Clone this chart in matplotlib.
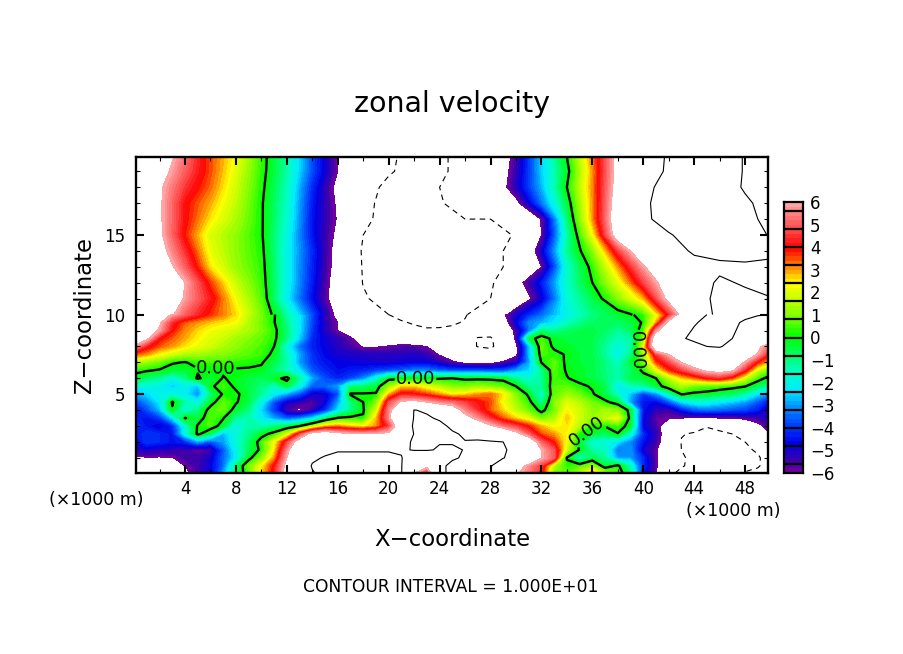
"""
Zonal velocity cross section with contour lines and a colour key
"""

import numpy as np
import matplotlib
matplotlib.use('Agg')
import matplotlib.pyplot as plt
from matplotlib.colors import LinearSegmentedColormap, BoundaryNorm

# lower part of the section on a finer grid (km)
x_low = list(range(0, 51))
z_low = [0.05, 0.5, 1, 1.5, 2, 2.5, 3, 3.5, 4, 4.5, 5, 5.5, 6, 6.5, 7, 7.5, 8, 8.5, 9, 9.5, 10]

# one row per z level, bottom to top, x = 0..50
u_low = [
    [-7.5, -7, -6.8, -6.5, -6.3, -5.5, -5, -3, -0.8, 0.6,
     2.6, 4.2, 6.8, 9, 9.9, 10.4, 10.6, 10.6, 10.6, 10.5,
     10.4, 10.1, 6.1, 4, 9.8, 10.2, 10.4, 10.5, 10.1, 7,
     6.2, 5.4, 4.3, 1, 0.6, 1.5, 3.2, 1.3, 0.6, -1,
     -4.5, -5.8, -9.7, -10.3, -10.5, -10.6, -10.5, -10.2, -9.8, -9.5, -9],
    [-7, -6.7, -6.6, -6.4, -6, -5.5, -4.8, -3.5, -0.9, 0.8,
     2.3, 4, 6.5, 9, 10.1, 10.4, 10.5, 10.5, 10.5, 10.5,
     10.4, 10.1, 7, 6.5, 9.8, 10.2, 10.5, 10.5, 10.2, 8,
     6.8, 5.6, 4.5, 1.5, 0.3, 0.5, 1.2, -0.5, 0.2, -1.5,
     -4.2, -5.8, -8, -9.9, -10.3, -10.5, -10.8, -11, -10.9, -10.2, -9],
    [-6.2, -6.1, -6.1, -6.05, -5.5, -5.5, -5, -3.5, -2.2, -0.3,
     1, 3, 6, 8.8, 9.8, 10.1, 10.3, 10.3, 10.3, 10.3,
     10.3, 10.1, 8.5, 8.5, 9.7, 9.9, 10.1, 10.4, 10.3, 10.1,
     9, 7.5, 6, 5, -0.1, -1.8, -0.6, -1.2, -3, -3,
     -4.2, -5.8, -8, -9.8, -10.4, -10.6, -10.8, -10.9, -10.8, -10.5, -8],
    [-5.2, -5, -5.2, -5.3, -5.5, -5.8, -5.5, -3.7, -2, -0.7,
     0.2, 2.4, 5.5, 8, 9.4, 9.7, 9.9, 9.9, 9.9, 9.9,
     9.9, 9.8, 10.1, 10.1, 9.9, 9.8, 10.05, 10.3, 10.5, 10.2,
     9.5, 8.7, 6, 4.8, 1.8, -0.1, -1.3, -1.5, -3.4, -3,
     -5, -5.8, -8, -10, -10.5, -10.8, -10.9, -11, -10.7, -9.5, -7.5],
    [-4.8, -4, -4.2, -4.5, -4.2, -3, -3.8, -3, -1.8, -0.8,
     0.4, 2.2, 4.5, 7, 8.7, 9, 8.5, 8.5, 8.5, 8.5,
     8.5, 9.5, 10.2, 10.4, 10.05, 10.1, 10.05, 10.2, 10.1, 10,
     9, 7.5, 5, 3.8, 2.2, -0.5, -1.8, -1.8, -2.4, -3.2,
     -4.5, -5.5, -7, -10.1, -10.6, -11, -11, -10.9, -10, -8.5, -6.6],
    [-4.5, -4, -4.2, -4.5, -2, 0.2, -0.8, -2.8, -1.8, -1.1,
     -0.3, 0.3, 1.8, 4.5, 6.8, 7.4, 6.5, 6.2, 6.1, 6.1,
     6.3, 7.5, 10.1, 10.3, 10.4, 10.2, 9.8, 9.4, 9.2, 8,
     6.5, 5, 3.5, 3, 2.3, 0.1, -0.4, -0.8, -0.05, -1.8,
     -4.2, -5.3, -7, -9.9, -10.2, -10.5, -10.2, -10, -8.8, -7, -6],
    [-3.8, -4.5, -5, -4.2, -1.8, 0.1, 0.5, -0.4, -2, -1.3,
     -1.4, -1, -0.7, 0, 1.3, 2.7, 3.1, 2.6, 2.3, 3,
     4.5, 7.5, 10.4, 10.5, 10.4, 9.7, 8, 7, 6.2, 5.2,
     4.6, 3.8, 2.8, 2.2, 2.5, 1.5, 0.1, 0.05, 0.4, -0.3,
     -4.8, -5.5, -7, -8.6, -9.2, -9.9, -9.7, -9.2, -7.8, -6.3, -5.5],
    [-4.3, -4.5, -4, -2.4, 0.05, -0.5, 0.6, 0.05, -1.2, -1.4,
     -2.2, -3, -3.7, -3.3, -2.5, -1, 0.1, 0.2, 0.1, 2.7,
     5.5, 9, 10.05, 10.2, 9.8, 7.5, 6.5, 5.6, 4.4, 3.4,
     2.6, 2, 0.8, 1.4, 2.8, 1.8, 1.2, 1.6, 2.2, -0.3,
     -4.7, -5.8, -5.9, -6, -6.1, -6.1, -6, -6, -5.7, -5.5, -5],
    [-4.7, -3.8, -2.8, -0.1, -2, -1, 0.4, 0.8, -0.4, -1,
     -2.5, -4, -5.6, -6.2, -5.4, -4.2, -2.4, -1.1, -0.1, 1.8,
     5.5, 8, 10.05, 9.8, 8, 7, 5.5, 4.4, 3.4, 2.6,
     1.6, 0.8, -0.3, 0.8, 2.4, 1.8, 1.1, 1.3, 1, -0.3,
     -4.5, -5.3, -5.5, -4.5, -3.7, -3.5, -3.6, -3.8, -3.9, -4.4, -5.3],
    [-4, -3.2, -2.3, 0.1, -1.3, -2, -0.4, 0.7, 0.1, -0.6,
     -2, -3.8, -5, -5.3, -5.7, -4.9, -3, -1, 0, 0.9,
     4.7, 6.2, 6.5, 6, 5.4, 5.2, 4.6, 4.1, 3.5, 2.2,
     1.3, 0.3, -1.2, 1, 2, 1.5, 0.8, 0.2, -0.4, -3,
     -4.5, -4.7, -3.8, -2.5, -2, -2, -2.3, -2.6, -3, -3.7, -4.6],
    [-3, -2.5, -2, -1.8, -2.2, -3.2, -1, 0.1, 0.2, -0.5,
     -1.2, -2.2, -3, -3.8, -5, -5, -3.8, 0.1, 0.1, 0.1,
     2.8, 4.2, 4, 3.6, 3, 2.3, 2.6, 3, 3.3, 2.5,
     1, -0.2, -1.8, 0.7, 1.2, 0.8, 0.1, -0.6, -1.6, -2.7,
     -4, -3.2, -1.6, 0.05, -0.2, -0.3, -0.6, -0.8, -1.4, -2.4, -3.3],
    [-1.9, -1.9, -2, -2.6, -2.1, -2.7, -0.2, 0.5, -0.2, -0.5,
     -1, -1.6, -0.5, -2, -3.6, -3.5, -3, -1, -0.9, -0.5,
     1.2, 2.5, 2.6, 2, 1.5, 1, 0.9, 1.2, 0.9, 0.7,
     0, -1.1, -1.2, 0.6, 0.7, 0.2, -0.1, -0.6, -2.2, -1.5,
     -1.3, -0.5, 0.6, 1.4, 0.8, 0.6, 0.5, 0.3, 0.05, -0.7, -1.5],
    [-0.4, -0.9, -1.2, -1.9, -1.1, 0.15, -0.5, 0.05, -0.2, -0.5,
     -0.7, -0.3, 0.25, -1.2, -2.9, -3.8, -4.3, -3.9, -3.2, -1.9,
     -0.3, -0.2, -0.2, -0.3, -0.1, 0, -0.2, -0.2, -0.2, -0.3,
     -1.2, -1.7, -1.2, 0.5, 0.05, -0.3, -0.5, -0.9, -1.4, -0.6,
     -0.4, 0, 1.5, 2.6, 3.2, 4, 4.3, 3.5, 1.9, 0.4, -0.4],
    [0.3, 0.1, -0.1, -0.4, -0.4, -0.1, -0.1, -0.1, -0.1, -0.1,
     -0.2, -0.9, -1.5, -2.4, -3.7, -4.2, -4.6, -4.4, -4.3, -4,
     -3.8, -3.6, -3.3, -3.3, -3.6, -3.8, -3.7, -3.7, -3.8, -3.8,
     -3, -2.5, -1.2, 0.6, -0.1, -0.3, -0.5, -1, -1.3, -0.8,
     0.2, 2, 3.6, 4.5, 5.5, 6.3, 6.6, 6.2, 4.2, 1.8, 0.7],
    [1.5, 1.1, 0.8, 0.1, -0.05, 0.3, 0.4, 0.4, 0.3, 0.2,
     0.1, -0.6, -1.3, -3, -4, -4.5, -4.7, -4.8, -4.9, -5,
     -5, -4.9, -4.8, -4.8, -5.2, -5.8, -6.3, -6.5, -6.4, -5.8,
     -5.2, -3, 0.05, 0.7, -0.2, -0.4, -0.5, -1, -1.6, -0.5,
     0.8, 3.5, 4.6, 6, 7, 7.8, 8, 7.4, 5.8, 3.8, 2.6],
    [3.5, 3, 2.3, 1.8, 1.4, 1.3, 1.1, 1, 0.8, 0.6,
     0.4, -0.2, -1.5, -2.9, -4.1, -4.7, -5, -5.1, -5.1, -5.2,
     -5.2, -5.2, -5.1, -5.4, -6.1, -6.8, -7.3, -8, -8.5, -7.5,
     -6.3, -2.8, 0.5, 0.3, -0.1, -0.4, -0.6, -1.2, -2, -1.1,
     1.2, 4.5, 6, 7.7, 8.3, 9, 9.2, 8.2, 7, 5.9, 3.8],
    [5.7, 4.2, 3.4, 3, 2.5, 2.1, 1.8, 1.4, 1.1, 0.8,
     0.5, 0, -1.9, -3.4, -4.3, -4.8, -5.2, -5.6, -6.1, -6.1,
     -5.9, -5.7, -5.7, -6, -6.4, -7, -9, -10.1, -10.5, -8.5,
     -6.3, -2.8, 0.8, -0.2, -0.3, -0.5, -0.6, -1.2, -1.9, -1.4,
     2, 8, 8.8, 9.4, 9.7, 10, 10.1, 9.6, 8, 6.3, 5],
    [7.5, 6.3, 4, 3.4, 2.9, 2.4, 2, 1.7, 1.3, 1,
     0.7, 0.2, -1, -2.6, -4.2, -4.9, -5.3, -5.8, -6.8, -7.2,
     -7.2, -7, -7.5, -8, -8.3, -8.7, -9.2, -10.1, -10.3, -8.5,
     -5.7, -0.5, 0.5, -0.3, -0.5, -0.5, -0.6, -1, -1.5, -1.3,
     1, 8, 9.3, 9.9, 10.2, 10.4, 10.4, 10, 9.4, 8.6, 7.5],
    [8, 7, 5.8, 3.9, 3.1, 2.6, 2.2, 2, 1.7, 1.4,
     0.9, 0.25, -0.9, -2.3, -4, -5.2, -6, -7, -8, -8.6,
     -9, -9.3, -9.5, -9.7, -9.6, -9.5, -9.4, -9.3, -8.7, -7.5,
     -5.6, -3.5, -1, -1.2, -0.8, -0.6, -0.5, -0.8, -1.2, -0.8,
     0.5, 5.5, 7.5, 9.3, 10.2, 10.6, 10.7, 10.2, 9.5, 8.8, 8],
    [9, 7.5, 6.2, 4.3, 3.4, 3, 2.7, 2.5, 2.3, 1.5,
     0.8, 0.05, -1.1, -2.3, -3.9, -5.2, -6, -7.4, -8.4, -9,
     -9.4, -9.8, -10.2, -10.6, -10.7, -10.3, -9.8, -9, -8, -6.8,
     -4.8, -3.2, -2.8, -2.3, -1.6, -1.1, -0.8, -0.7, -0.8, -0.5,
     0.1, 2.8, 6.5, 8.7, 9.8, 10.5, 10.8, 10.4, 9.7, 8.8, 8.5],
    [10.1, 8.8, 7.3, 5.8, 5, 4.3, 3.7, 3.2, 2.6, 1.6,
     0.9, 0.1, -1.3, -2.2, -3.8, -5.4, -6.4, -7.5, -8.5, -9.2,
     -10, -10.6, -11, -11.2, -11.5, -11, -10.2, -9, -8, -6.2,
     -5, -4.2, -3.5, -2.6, -2, -1.5, -1, -0.7, -0.4, -0.1,
     0.3, 2, 4.2, 7, 8.7, 10, 10.5, 10.6, 10.5, 10.2, 10],
]

# upper part, smoother, coarser grid
x_high = list(range(0, 51, 2))
z_high = [10, 11, 12, 13, 14, 15, 16, 17, 18, 19, 19.9]
u_high = [
    [10.1, 7.3, 5, 3.7, 2.6, 0.9, -1.3, -3.8, -6.4, -8.5, -10, -11, -11.5, -10.2, -8, -5, -3.5, -2, -1, -0.4, 0.3, 4.2, 8.7, 10.5, 10.5, 10],
    [9.3, 8.3, 5.8, 4.2, 2.2, 0.6, -2.2, -4.6, -6.8, -9.7, -11, -12, -12, -11.5, -10, -7.5, -5, -1.8, -0.6, 1, 2.8, 6.5, 9, 10.6, 10.5, 10.2],
    [9.5, 8.5, 6, 3.6, 1.7, 0.4, -2, -4.4, -6.8, -10.1, -11, -12, -12, -11.5, -10.5, -6.6, -4.4, -1.6, 0, 2, 4.6, 7, 9, 10.3, 9.8, 8.5],
    [8.5, 7.2, 5, 2.5, 1.2, 0.3, -2, -4.3, -6.6, -10.2, -11.5, -12.5, -12, -12, -10.5, -9.5, -6, -1.7, 0.3, 3, 5.8, 8, 9.2, 9.6, 9.7, 9.8],
    [8, 6.6, 4.4, 2.1, 1.1, 0.2, -2, -4.2, -6.6, -10.3, -11.5, -12.5, -12, -12, -11, -9, -5, -1.2, 1, 4.5, 7.5, 9, 10.3, 10.6, 10.7, 10.2],
    [8, 6.3, 3.8, 1.9, 1.1, 0.1, -1.9, -4.5, -6.3, -10, -11.5, -12.5, -12, -11.5, -11, -9.8, -6, -1.4, 2.2, 7, 8.5, 9.8, 11, 11.3, 10.6, 9.9],
    [7.5, 6.2, 4, 2.5, 1.4, 0.1, -1.7, -4.5, -6.1, -9.4, -11, -12, -11, -10, -10, -9, -5.9, -1, 3, 7.2, 9.5, 11, 11.5, 11.4, 10.5, 9.5],
    [7.5, 6.2, 4, 2.9, 1.6, 0.1, -1.6, -4.4, -6.2, -9.2, -11, -12, -10.2, -9, -7.6, -6.4, -3.4, -0.5, 3, 7, 9.6, 11, 11.5, 11.2, 10.3, 9.3],
    [7.5, 6.2, 4.5, 3.3, 1.8, 0.2, -1.5, -4.2, -6.4, -8.8, -10.7, -12, -10, -9, -7.4, -5.2, -2.8, 0, 3.1, 6.7, 9.4, 10.8, 11.3, 11, 9.8, 9],
    [8, 6.6, 5, 3.5, 2, 0.3, -1.3, -3.8, -6, -8, -9.7, -11, -10.5, -9, -7.5, -5.4, -2.6, -0.3, 3, 6.6, 8.9, 10.3, 11, 10.8, 9.9, 9],
    [8, 7, 5.2, 3.5, 2.2, 0.35, -1.3, -3.8, -6, -8, -9.5, -11, -10.5, -9, -7.5, -5.6, -2.5, 0, 3.2, 6.5, 8.5, 10.3, 11, 10.8, 9.9, 9],
]

key_labels = [6, 5, 4, 3, 2, 1, 0, -1, -2, -3, -4, -5, -6]
zero_label_spots = [(6.4, 6.6), (22.1, 5.85), (35.3, 3.0), (39.8, 7.8)]

W, H = 904, 654


def px_axes(fig, x0, y0, x1, y1):
    # axes box given in picture pixels
    return fig.add_axes([x0 / W, 1 - y1 / H, (x1 - x0) / W, (y1 - y0) / H])


ramp = LinearSegmentedColormap.from_list('zonal', [
    (0.0, (110/255, 0, 160/255)),
    (0.4/12, (60/255, 0, 170/255)),
    (1.2/12, (0, 0, 230/255)),
    (2.0/12, (0, 60/255, 1)),
    (2.8/12, (0, 140/255, 1)),
    (3.6/12, (0, 235/255, 1)),
    (4.4/12, (0, 1, 200/255)),
    (5.2/12, (0, 1, 100/255)),
    (6.0/12, (0, 1, 0)),
    (6.8/12, (110/255, 1, 0)),
    (7.6/12, (190/255, 1, 0)),
    (8.4/12, (1, 1, 0)),
    (9.2/12, (1, 130/255, 0)),
    (10.0/12, (1, 0, 0)),
    (10.8/12, (1, 70/255, 70/255)),
    (11.6/12, (1, 130/255, 130/255)),
    (1.0, (1, 165/255, 165/255)),
])
levels = np.linspace(-6, 6, 61)
norm = BoundaryNorm(levels, ramp.N)

fig = plt.figure(figsize=(W / 100, H / 100), dpi=100)
ax = px_axes(fig, 136, 157, 768, 473)

zero_low = None
for xs, zs, rows in [(x_low, z_low, u_low), (x_high, z_high, u_high)]:
    u = np.array(rows)
    ax.contourf(xs, zs, u, levels=levels, cmap=ramp, norm=norm, antialiased=False)
    ax.contour(xs, zs, u, levels=[10], colors='k', linewidths=0.8, linestyles='solid')
    ax.contour(xs, zs, u, levels=[-10], colors='k', linewidths=0.8, linestyles=[(0, (5, 4))])
    zero = ax.contour(xs, zs, u, levels=[0], colors='k', linewidths=1.7)
    if zero_low is None:
        zero_low = zero
ax.clabel(zero_low, fmt='%.2f', fontsize=13, manual=zero_label_spots, inline_spacing=1)

ax.set_xlim(0.15, 49.8)
ax.set_ylim(0.05, 19.9)
ax.set_xticks(range(4, 49, 4))
ax.set_xticks(range(2, 50, 2), minor=True)
ax.set_yticks([5, 10, 15])
ax.set_yticks(range(1, 20), minor=True)
ax.tick_params(which='major', direction='in', top=True, right=True, length=6, width=1.5,
               labelsize=12, pad=8)
ax.tick_params(axis='x', which='major', pad=5)
ax.tick_params(which='minor', direction='in', top=True, right=True, length=3, width=0.8)
for spine in ax.spines.values():
    spine.set_linewidth(1.7)

# colour key
cax = px_axes(fig, 784, 202, 803, 473)
cax.pcolormesh([0, 1], levels, np.array(levels[:-1]).reshape(-1, 1) + 0.1, cmap=ramp, norm=norm)
cax.hlines(np.arange(-5.6, 5.7, 0.8), 0, 1, colors='k', linewidth=1.6)
cax.set_xlim(0, 1)
cax.set_ylim(-6, 6)
cax.set_xticks([])
cax.yaxis.tick_right()
cax.set_yticks(key_labels)
cax.set_yticklabels([str(v).replace('-', '\u2212') for v in key_labels])
cax.tick_params(length=0, labelsize=12, pad=5)
for spine in cax.spines.values():
    spine.set_linewidth(1.6)

fig.text(452 / W, 1 - 104 / H, 'zonal velocity', fontsize=20.5, ha='center', va='center')
fig.text(452 / W, 1 - 539 / H, 'X\u2212coordinate', fontsize=16.4, ha='center', va='center')
fig.text(84 / W, 1 - 315 / H, 'Z\u2212coordinate', fontsize=16.4, ha='center', va='center', rotation=90)
fig.text(96 / W, 1 - 500 / H, '(\u00d71000 m)', fontsize=12.5, ha='center', va='center')
fig.text(733 / W, 1 - 511 / H, '(\u00d71000 m)', fontsize=12.5, ha='center', va='center')
fig.text(451 / W, 1 - 587 / H, 'CONTOUR INTERVAL = 1.000E+01', fontsize=12.3, ha='center', va='center')

fig.savefig('out.png', dpi=100)
